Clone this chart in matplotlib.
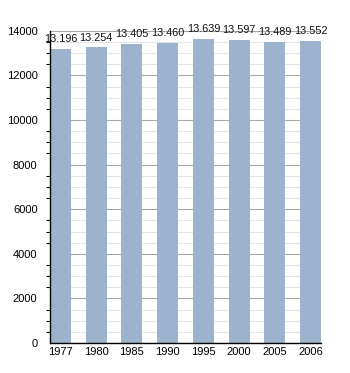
import matplotlib
matplotlib.use("Agg")
import matplotlib.pyplot as plt
from matplotlib.ticker import MultipleLocator

years = ["1977", "1980", "1985", "1990", "1995", "2000", "2005", "2006"]
population = [13196, 13254, 13405, 13460, 13639, 13597, 13489, 13552]

plt.rcParams['font.family'] = ['Liberation Sans', 'DejaVu Sans']

fig = plt.figure(figsize=(3.5, 3.73), dpi=100)
ax = fig.add_axes([0.143, 0.0804, 0.774, 0.837])

x = list(range(len(years)))
ax.bar(x, population, width=0.59, color="#9bb3cc", zorder=2)

for xi, v in zip(x, population):
    s = f"{v:,}".replace(",", ".")
    ax.text(xi, v + 220, s, ha="center", va="bottom", fontsize=7.8,
            color="#111111", clip_on=False, zorder=3)

ax.set_xlim(-0.295, 7.295)
ax.set_ylim(0, 14000)
ax.yaxis.set_major_locator(MultipleLocator(2000))
ax.yaxis.set_minor_locator(MultipleLocator(500))
ax.grid(axis="y", which="major", color="#a8a8a8", linewidth=0.8, zorder=0)
ax.grid(axis="y", which="minor", color="#e6e4ea", linewidth=0.8, zorder=0)
ax.set_axisbelow(True)

ax.set_xticks(x)
ax.set_xticklabels(years)
ax.tick_params(axis="x", length=0, pad=3, labelsize=8)
ax.tick_params(axis="y", which="major", length=0, pad=9, labelsize=8)
ax.tick_params(axis="y", which="minor", length=3, width=0.8, direction="out")

for s in ["top", "right"]:
    ax.spines[s].set_visible(False)
ax.spines["left"].set_linewidth(1.0)
ax.spines["bottom"].set_linewidth(1.0)

fig.savefig("out.png", dpi=100)
